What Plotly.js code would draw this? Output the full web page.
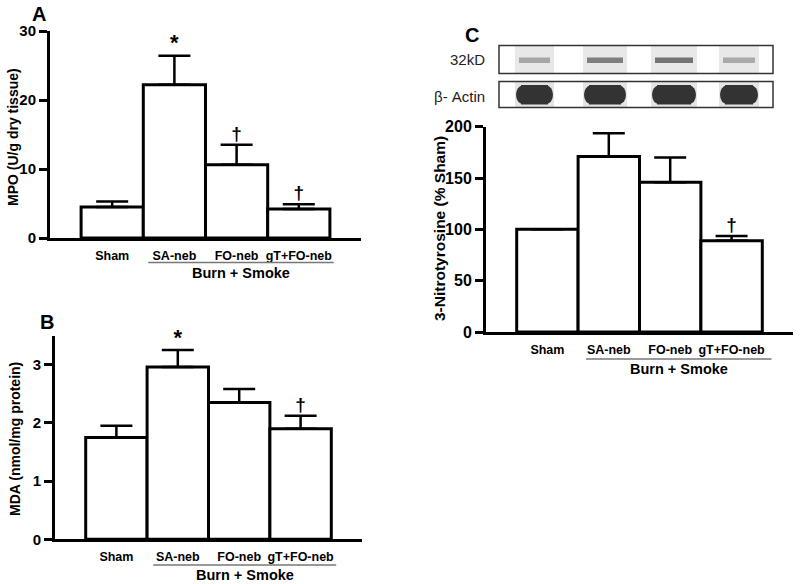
<!DOCTYPE html>
<html>
<head>
<meta charset="utf-8">
<script src="https://cdn.plot.ly/plotly-3.0.1.min.js"></script>
<style>html,body{margin:0;padding:0;background:#fff;}#chart{width:800px;height:584px;}</style>
</head>
<body>
<div id="chart"></div>
<script>
// ---- data ----
const categories = ['Sham', 'SA-neb', 'FO-neb', 'gT+FO-neb'];
const mpoMean = [4.5, 22.2, 10.6, 4.2];
const mpoSem = [0.8, 4.2, 2.9, 0.7];
const mpoMarks = ['', '*', '†', '†'];
const mdaMean = [1.75, 2.96, 2.35, 1.9];
const mdaSem = [0.2, 0.29, 0.23, 0.22];
const mdaMarks = ['', '*', '', '†'];
const ntMean = [100, 171, 146, 89];
const ntSem = [0, 22.5, 24, 4.5];
const ntMarks = ['', '', '', '†'];
const noMinus = [0, 0, 0, 0];
const groupLabel = 'Burn + Smoke';
const band32kD = [0.38, 0.55, 0.6, 0.36];
const bandActin = [0.8, 0.8, 0.8, 0.8];

// ---- helpers ----
const W = 800, H = 584;
const px = x => x / W;
const py = y => 1 - y / H;
const FONT = 'Liberation Sans, Arial, sans-serif';

function barTrace(means, sems, xa, ya) {
  return {
    type: 'bar', x: categories, y: means, xaxis: xa, yaxis: ya, width: 1,
    marker: {color: '#ffffff', line: {color: '#000', width: 3}},
    error_y: {type: 'data', symmetric: false, array: sems, arrayminus: noMinus,
              visible: true, color: '#000', thickness: 2.5, width: 16},
    hoverinfo: 'skip', showlegend: false
  };
}
function markTrace(means, sems, marks, xa, ya) {
  return {
    type: 'scatter', mode: 'text', x: categories,
    y: means.map((m, i) => m + sems[i]), text: marks,
    textposition: 'top center', xaxis: xa, yaxis: ya,
    textfont: {family: FONT, size: marks.map(t => t === '*' ? 22 : 19), color: '#000', weight: 700},
    hoverinfo: 'skip', showlegend: false, cliponaxis: false
  };
}

const data = [
  barTrace(mpoMean, mpoSem, 'x', 'y'), markTrace(mpoMean, mpoSem, mpoMarks, 'x', 'y'),
  barTrace(mdaMean, mdaSem, 'x2', 'y2'), markTrace(mdaMean, mdaSem, mdaMarks, 'x2', 'y2'),
  barTrace(ntMean, ntSem, 'x3', 'y3'), markTrace(ntMean, ntSem, ntMarks, 'x3', 'y3')
];

function xAx(d0, d1, anchor, size) {
  return {domain: [d0, d1], anchor: anchor, type: 'category', range: [-1, 4],
    showline: true, linewidth: 3, linecolor: '#000', ticks: '', showgrid: false, zeroline: false,
    tickangle: 0, automargin: false, ticklabelstandoff: 4,
    tickfont: {family: FONT, size: size, color: '#000', weight: 700}, fixedrange: true};
}
function yAx(d0, d1, anchor, range, dtick, size) {
  return {domain: [d0, d1], anchor: anchor, range: range, dtick: dtick, tick0: 0,
    showline: true, linewidth: 3, linecolor: '#000', ticks: 'outside', ticklen: 8, tickwidth: 3,
    tickcolor: '#000', showgrid: false, zeroline: false, automargin: false,
    tickfont: {family: FONT, size: size, color: '#000', weight: 700}, fixedrange: true};
}

const shapes = [];
const annotations = [];

// group lines and labels
function group(xa, yLine, yText, x0, x1) {
  shapes.push({type: 'line', xref: xa, yref: 'paper', x0: x0, x1: x1, y0: py(yLine), y1: py(yLine),
               line: {color: '#777', width: 1.5}});
  annotations.push({xref: xa, yref: 'paper', x: (x0 + x1) / 2, y: py(yText), text: groupLabel,
    showarrow: false, font: {family: FONT, size: 14.5, color: '#000', weight: 700}, yanchor: 'middle'});
}
group('x', 262.5, 272.5, 0.58, 3.56);
group('x2', 565, 575, 0.6, 3.58);
group('x3', 359, 369, 0.63, 3.65);

// panel letters
[['A', 39, 14], ['B', 47, 322], ['C', 472, 35]].forEach(([t, x, y]) => {
  annotations.push({xref: 'paper', yref: 'paper', x: px(x), y: py(y), text: t, showarrow: false,
    font: {family: FONT, size: 20, color: '#000', weight: 700}, xanchor: 'center', yanchor: 'middle'});
});

// y-axis titles
[['MPO (U/g dry tissue)', 13.5, 137.5, 14], ['MDA (nmol/mg protein)', 15, 439, 14],
 ['3-Nitrotyrosine (% Sham)', 440, 229, 15.5]].forEach(([t, x, y, s]) => {
  annotations.push({xref: 'paper', yref: 'paper', x: px(x), y: py(y), text: t, showarrow: false,
    textangle: -90, font: {family: FONT, size: s, color: '#000', weight: 700},
    xanchor: 'center', yanchor: 'middle'});
});

// blot labels
annotations.push({xref: 'paper', yref: 'paper', x: px(487), y: py(60), text: '32kD', showarrow: false,
  xanchor: 'right', yanchor: 'middle', font: {family: FONT, size: 15, color: '#222'}});
annotations.push({xref: 'paper', yref: 'paper', x: px(487), y: py(97), text: 'β- Actin', showarrow: false,
  xanchor: 'right', yanchor: 'middle', font: {family: FONT, size: 15, color: '#222'}});

// western blot image (shapes)
const lanes = [[515, 554], [583, 627], [651, 697], [719, 759]];
function grey(v) { const c = Math.round(255 * (1 - v)); return `rgb(${c},${c},${c})`; }
lanes.forEach(([a, b], i) => {
  shapes.push({type: 'rect', xref: 'paper', yref: 'paper', x0: px(a), x1: px(b), y0: py(46), y1: py(73),
    fillcolor: '#e8e8e8', line: {width: 0}});
  shapes.push({type: 'rect', xref: 'paper', yref: 'paper', x0: px(a), x1: px(b), y0: py(82), y1: py(107),
    fillcolor: '#e4e4e4', line: {width: 0}});
  // 32kD band
  shapes.push({type: 'rect', xref: 'paper', yref: 'paper', x0: px(a + 4), x1: px(b - 4), y0: py(57.5), y1: py(63),
    fillcolor: grey(band32kD[i]), line: {width: 0}, opacity: 0.9});
  // actin band
  shapes.push({type: 'rect', xref: 'paper', yref: 'paper', x0: px(a + 6), x1: px(b - 6), y0: py(85), y1: py(104.5),
    fillcolor: grey(bandActin[i]), line: {width: 0}});
  shapes.push({type: 'circle', xref: 'paper', yref: 'paper', x0: px(a + 1), x1: px(a + 14), y0: py(85.5), y1: py(104),
    fillcolor: grey(bandActin[i]), line: {width: 0}});
  shapes.push({type: 'circle', xref: 'paper', yref: 'paper', x0: px(b - 14), x1: px(b - 1), y0: py(85.5), y1: py(104),
    fillcolor: grey(bandActin[i]), line: {width: 0}});
});
shapes.push({type: 'rect', xref: 'paper', yref: 'paper', x0: px(499), x1: px(773), y0: py(45.5), y1: py(73.5),
  fillcolor: 'rgba(0,0,0,0)', line: {color: '#333', width: 1.5}});
shapes.push({type: 'rect', xref: 'paper', yref: 'paper', x0: px(499), x1: px(773), y0: py(81.5), y1: py(107.5),
  fillcolor: 'rgba(0,0,0,0)', line: {color: '#333', width: 1.5}});

const layout = {
  width: W, height: H, margin: {l: 0, r: 0, t: 0, b: 0},
  paper_bgcolor: '#fff', plot_bgcolor: 'rgba(0,0,0,0)', showlegend: false, bargap: 0,
  xaxis: xAx(px(50), px(361), 'y', 12.5),
  yaxis: yAx(py(238), py(31), 'x', [0, 30], 10, 15),
  xaxis2: xAx(px(55), px(362), 'y2', 12.5),
  yaxis2: yAx(py(539.3), py(335.5), 'x2', [0, 3.5], 1, 15),
  xaxis3: xAx(px(486), px(793), 'y3', 12.5),
  yaxis3: yAx(py(332), py(126.7), 'x3', [0, 200], 50, 16),
  shapes: shapes, annotations: annotations
};

Plotly.newPlot('chart', data, layout, {displayModeBar: false, staticPlot: true});
</script>
</body>
</html>
